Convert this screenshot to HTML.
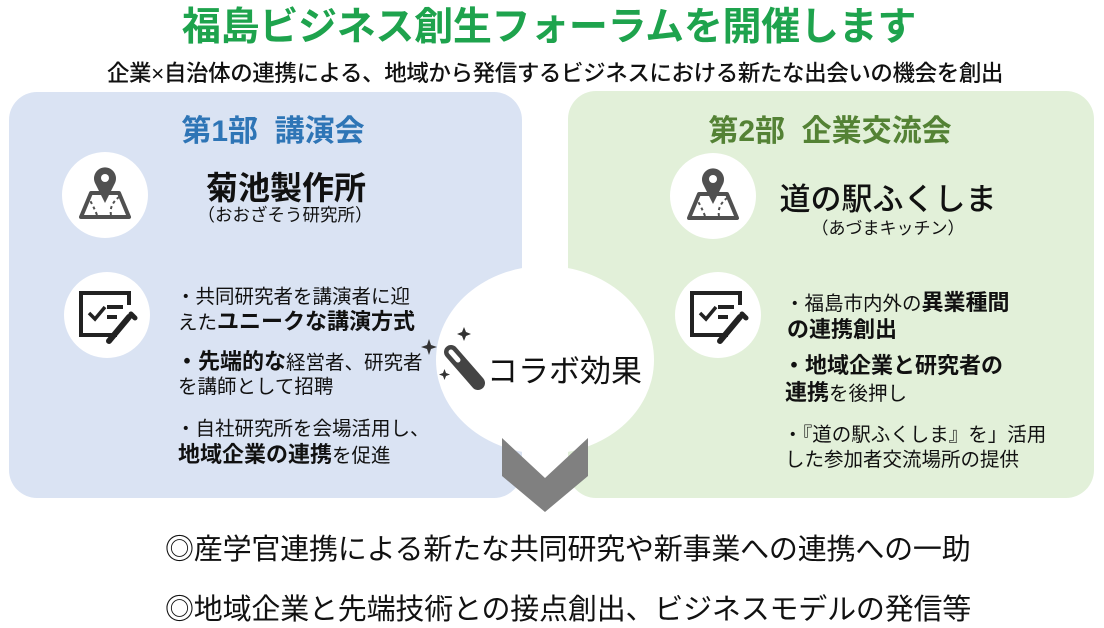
<!DOCTYPE html>
<html><head><meta charset="utf-8">
<style>
body{margin:0;width:1104px;height:628px;background:#fff;overflow:hidden;position:relative;font-family:"Liberation Sans","Noto Sans CJK JP",sans-serif;color:#111}
.a{position:absolute;white-space:nowrap}
.c{transform:translateX(-50%)}
.b{font-weight:bold}
.s{font-size:19.5px}
.l{font-size:22px;font-weight:bold}
</style></head><body>
<div class="a c b" style="left:549px;top:-4px;font-size:39px;color:#1ea34d;letter-spacing:-0.3px">福島ビジネス創生フォーラムを開催します</div>
<div class="a c" style="left:555px;top:56px;font-size:22.5px;font-weight:500;letter-spacing:-0.4px">企業×自治体の連携による、地域から発信するビジネスにおける新たな出会いの機会を創出</div>

<div class="a" style="left:9px;top:92px;width:513px;height:406px;background:#dae3f3;border-radius:28px"></div>
<div class="a" style="left:568px;top:91px;width:526px;height:407px;background:#e2f0d9;border-radius:28px"></div>

<div class="a c b" style="left:273px;top:106px;font-size:30px;color:#2e75b6">第1部&nbsp;&nbsp;講演会</div>
<div class="a c b" style="left:830px;top:106px;font-size:30px;color:#548235">第2部&nbsp;&nbsp;企業交流会</div>

<svg class="a" style="left:0;top:0" width="1104" height="628">
<defs>
<g id="map">
<path d="M-24,22 L-14,-2 L14,-2 L24,22 Z" fill="none" stroke="#505050" stroke-width="4" stroke-linejoin="round"/>
<path d="M-8,20 Q-12,10 -16,4 M6,20 Q4,10 14,2" fill="none" stroke="#505050" stroke-width="2" stroke-dasharray="3,3"/>
<path d="M0,8 L-10,-12 A11,11 0 1,1 10,-12 Z" fill="#505050"/>
<circle cx="0" cy="-17" r="4" fill="#fff"/>
</g>
<g id="chk">
<path d="M-26,-12 V-22 H22 V-10 M10,20 H-26 V-12" fill="none" stroke="#222" stroke-width="4"/>
<path d="M-18,-2 L-12,4 L-2,-8" fill="none" stroke="#222" stroke-width="3.5"/>
<rect x="0" y="-10" width="16" height="4" fill="#222"/>
<rect x="0" y="0" width="10" height="4" fill="#222"/>
<path d="M2,26 L22,2" stroke="#222" stroke-width="6" stroke-linecap="round"/>
<path d="M24,-1 L28,3" stroke="#222" stroke-width="5" stroke-linecap="round"/>
</g>
</defs>
<circle cx="105" cy="195" r="43" fill="#fff"/>
<use href="#map" x="105" y="195"/>
<circle cx="107" cy="315" r="43" fill="#fff"/>
<use href="#chk" x="107" y="315"/>
<circle cx="713" cy="196" r="43" fill="#fff"/>
<use href="#map" x="713" y="196"/>
<circle cx="718" cy="315" r="43" fill="#fff"/>
<use href="#chk" x="718" y="315"/>

<ellipse cx="545" cy="360" rx="109" ry="94" fill="#fff"/>
<polygon points="502,438 545,478 588,438 588,476 545,512 502,476" fill="#808080"/>
<g fill="#333">
<path d="M427,345 l2,-6 2,6 6,2 -6,2 -2,6 -2,-6 -6,-2z"/>
<path d="M462,332 l2,-5 2,5 5,2 -5,2 -2,5 -2,-5 -5,-2z"/>
<path d="M443,373 l1.5,-4 1.5,4 4,1.5 -4,1.5 -1.5,4 -1.5,-4 -4,-1.5z"/>
</g>
<path d="M451,352 L478,383" stroke="#444" stroke-width="14" stroke-linecap="round"/>
<path d="M451,352 L458,360" stroke="#fff" stroke-width="5" stroke-linecap="round"/>
</svg>
<div class="a" style="left:487px;top:346px;font-size:31px">コラボ効果</div>

<div class="a c b" style="left:286px;top:163px;font-size:32px">菊池製作所</div>
<div class="a c" style="left:285px;top:202px;font-size:17.5px">（おおざそう研究所）</div>
<div class="a c" style="left:888px;top:174px;font-size:31px;font-weight:500">道の駅ふくしま</div>
<div class="a c" style="left:888px;top:214px;font-size:17px">（あづまキッチン）</div>

<div class="a s" style="left:176px;top:280px">・共同研究者を講演者に迎</div>
<div class="a" style="left:178px;top:304px"><span class="s">えた</span><span class="l">ユニークな講演方式</span></div>
<div class="a" style="left:176px;top:344px"><span class="l">・先端的な</span><span class="s">経営者、研究者</span></div>
<div class="a s" style="left:178px;top:370px">を講師として招聘</div>
<div class="a s" style="left:176px;top:412px">・自社研究所を会場活用し、</div>
<div class="a" style="left:178px;top:437px"><span class="l">地域企業の連携</span><span class="s">を促進</span></div>

<div class="a" style="left:785px;top:285px"><span class="s">・福島市内外の</span><span class="l">異業種間</span></div>
<div class="a l" style="left:787px;top:312px">の連携創出</div>
<div class="a l" style="left:783px;top:348px">・地域企業と研究者の</div>
<div class="a" style="left:785px;top:375px"><span class="l">連携</span><span class="s">を後押し</span></div>
<div class="a s" style="left:783px;top:418px">・『道の駅ふくしま』を」活用</div>
<div class="a s" style="left:785px;top:443px">した参加者交流場所の提供</div>

<div class="a" style="left:165px;top:526px;font-size:29px;letter-spacing:-0.2px">◎産学官連携による新たな共同研究や新事業への連携への一助</div>
<div class="a" style="left:165px;top:586px;font-size:29px;letter-spacing:-0.2px">◎地域企業と先端技術との接点創出、ビジネスモデルの発信等</div>
</body></html>
